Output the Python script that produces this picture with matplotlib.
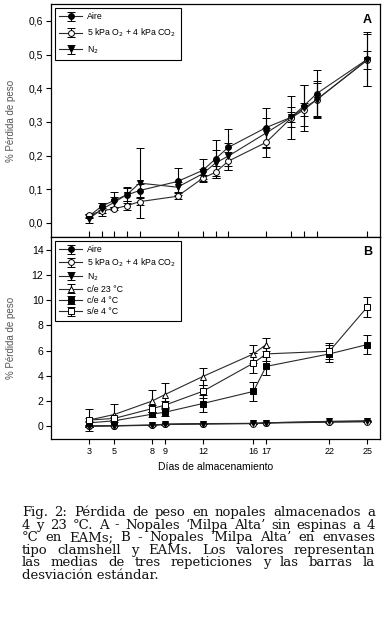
import numpy as np
import matplotlib
matplotlib.use("Agg")
from matplotlib import pyplot as plt
from matplotlib.ticker import FuncFormatter

plt.rcParams['font.family'] = ['Liberation Sans', 'DejaVu Sans']

# ---- panel A: nopales sin espinas a 4 C en EAMs
days_a = [3, 4, 5, 6, 7, 10, 12, 13, 14, 17, 19, 20, 21, 25]
aire_a = [0.020, 0.049, 0.067, 0.083, 0.096, 0.123, 0.156, 0.190, 0.224, 0.283, 0.314, 0.348, 0.384, 0.486]
aire_a_sd = [0.005, 0.010, 0.024, 0.023, 0.020, 0.040, 0.035, 0.057, 0.055, 0.059, 0.015, 0.060, 0.070, 0.080]
mod_a = [0.022, 0.036, 0.042, 0.051, 0.063, 0.079, 0.133, 0.150, 0.183, 0.239, 0.312, 0.336, 0.366, 0.484]
mod_a_sd = [0.005, 0.008, 0.005, 0.014, 0.010, 0.009, 0.008, 0.018, 0.026, 0.042, 0.064, 0.020, 0.056, 0.027]
n2_a = [0.012, 0.040, 0.061, 0.084, 0.118, 0.106, 0.146, 0.178, 0.198, 0.267, 0.314, 0.341, 0.366, 0.484]
n2_a_sd = [0.011, 0.020, 0.015, 0.020, 0.103, 0.015, 0.015, 0.038, 0.040, 0.045, 0.030, 0.068, 0.050, 0.078]

# ---- panel B: clamshell y EAMs
days_b = [3, 5, 8, 9, 12, 16, 17, 22, 25]
aire_b = [0.03, 0.05, 0.10, 0.18, 0.22, 0.24, 0.29, 0.37, 0.40]
aire_b_sd = [0.05, 0.03, 0.03, 0.03, 0.03, 0.03, 0.03, 0.04, 0.05]
mod_b = [0.02, 0.04, 0.08, 0.15, 0.19, 0.22, 0.26, 0.33, 0.36]
mod_b_sd = [0.03, 0.03, 0.03, 0.03, 0.03, 0.03, 0.03, 0.04, 0.04]
n2_b = [0.01, 0.06, 0.10, 0.16, 0.20, 0.23, 0.28, 0.40, 0.45]
n2_b_sd = [0.03, 0.03, 0.03, 0.03, 0.03, 0.03, 0.03, 0.04, 0.05]
days_ce23 = [3, 5, 8, 9, 12, 16, 17]
ce23 = [0.50, 0.94, 2.01, 2.52, 3.95, 5.74, 6.48]
ce23_sd = [0.86, 0.84, 0.90, 0.95, 0.68, 0.70, 0.50]
ce4 = [0.28, 0.44, 0.97, 1.12, 1.81, 2.77, 4.75, 5.74, 6.48]
ce4_sd = [0.15, 0.10, 0.20, 0.30, 0.70, 0.76, 0.71, 0.68, 0.78]
se4 = [0.50, 0.63, 1.41, 1.68, 2.78, 5.01, 5.74, 5.95, 9.46]
se4_sd = [0.15, 0.15, 0.30, 0.30, 0.50, 0.80, 0.55, 0.63, 0.78]

lab_aire = 'Aire'
lab_mod = '5 kPa O$_2$ + 4 kPa CO$_2$'
lab_n2 = 'N$_2$'
lab_ce23 = 'c/e 23 °C'
lab_ce4 = 'c/e 4 °C'
lab_se4 = 's/e 4 °C'

caption = [
    "Fig. 2: Pérdida de peso en nopales almacenados a",
    "4 y 23 °C. A - Nopales ‘Milpa Alta’ sin espinas a 4",
    "°C en EAMs; B - Nopales ‘Milpa Alta’ en envases",
    "tipo clamshell y EAMs.  Los valores representan",
    "las medias de tres repeticiones y las barras la",
    "desviación estándar.",
]

W, H = 389, 623
fig = plt.figure(figsize=(W / 100, H / 100), dpi=100)
fig.patch.set_facecolor('white')

axA = fig.add_axes([51 / W, 1 - 237 / H, 329 / W, 233 / H])
axB = fig.add_axes([51 / W, 1 - 439 / H, 329 / W, 202 / H])


def series(ax, x, y, sd, marker, face, ms, label):
    ax.errorbar(x, y, yerr=sd, fmt='-', color='#2a2a2a', lw=0.8,
                marker=marker, mfc=face, mec='black', mew=0.7, ms=ms,
                ecolor='black', elinewidth=0.8, capsize=2.8, capthick=0.8,
                label=label)


series(axA, days_a, aire_a, aire_a_sd, 'o', 'black', 4.2, lab_aire)
series(axA, days_a, mod_a, mod_a_sd, 'o', 'white', 4.2, lab_mod)
series(axA, days_a, n2_a, n2_a_sd, 'v', 'black', 4.5, lab_n2)

series(axB, days_b, aire_b, aire_b_sd, 'o', 'black', 4.2, lab_aire)
series(axB, days_b, mod_b, mod_b_sd, 'o', 'white', 4.2, lab_mod)
series(axB, days_b, n2_b, n2_b_sd, 'v', 'black', 4.5, lab_n2)
series(axB, days_ce23, ce23, ce23_sd, '^', 'white', 4.8, lab_ce23)
series(axB, days_b, ce4, ce4_sd, 's', 'black', 4.5, lab_ce4)
series(axB, days_b, se4, se4_sd, 's', 'white', 4.8, lab_se4)

for ax in (axA, axB):
    ax.set_xlim(0, 26)
    for s in ax.spines.values():
        s.set_linewidth(0.9)
    ax.tick_params(axis='y', direction='out', length=3.5, width=0.8, labelsize=7.5, pad=2)
    ax.set_ylabel('% Pérdida de peso', fontsize=7, color='#555555')
    ax.yaxis.set_label_coords(-0.105, 0.5)

axA.set_ylim(-0.042, 0.65)
axA.set_yticks([0.0, 0.1, 0.2, 0.3, 0.4, 0.5, 0.6])
axA.yaxis.set_major_formatter(FuncFormatter(lambda v, p: f"{v:.1f}".replace('.', ',')))
axA.set_xticks(days_a)
axA.tick_params(axis='x', direction='in', length=4, width=0.8, labelbottom=False)

axB.set_ylim(-1, 15)
axB.set_yticks(range(0, 15, 2))
axB.set_xticks(days_b)
axB.tick_params(axis='x', direction='out', length=3.5, width=0.8, labelsize=6.5, pad=2.5)
axB.set_xlabel('Días de almacenamiento', fontsize=7.5, labelpad=4)

axA.text(0.975, 0.955, 'A', transform=axA.transAxes, ha='right', va='top',
         fontsize=9, fontweight='bold')
axB.text(0.975, 0.955, 'B', transform=axB.transAxes, ha='right', va='top',
         fontsize=9, fontweight='bold')

for ax, sp in ((axA, 0.6), (axB, 0.25)):
    leg = ax.legend(loc='upper left', fontsize=6.3, frameon=True, fancybox=False,
                    framealpha=1, edgecolor='black', handlelength=2.6,
                    handletextpad=0.6, labelspacing=sp, borderpad=0.5,
                    borderaxespad=0.45)
    leg.get_frame().set_linewidth(0.8)

# caption, justified like the printed page
fig.canvas.draw()
renderer = fig.canvas.get_renderer()
x0, x1 = 22, 375
base = 516
cap_font = dict(fontsize=9.5, family='DejaVu Serif', va='baseline', color='#111111')
for i, line in enumerate(caption):
    y = 1 - (base + i * 12.6) / H
    words = line.split()
    if i == len(caption) - 1:
        fig.text(x0 / W, y, line, **cap_font)
        continue
    items = [fig.text(0, y, w, **cap_font) for w in words]
    widths = [t.get_window_extent(renderer).width for t in items]
    gap = (x1 - x0 - sum(widths)) / (len(words) - 1)
    x = x0
    for t, w in zip(items, widths):
        t.set_x(x / W)
        x += w + gap

fig.savefig('out.png', dpi=100)
